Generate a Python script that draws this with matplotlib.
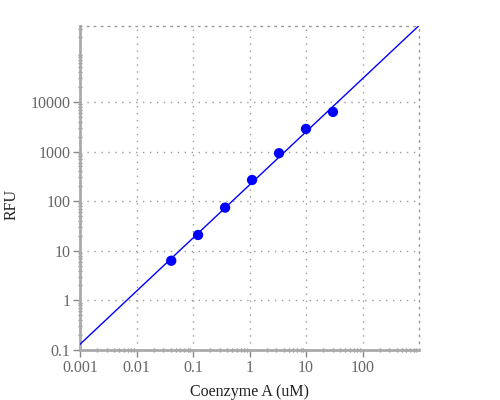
import matplotlib
matplotlib.use("Agg")
import matplotlib.pyplot as plt
import numpy as np
from matplotlib.ticker import LogLocator, FixedLocator, NullFormatter

# data
conc = [0.0412, 0.123, 0.37, 1.11, 3.33, 10.0, 30.0]
rfu = [6.3, 20.8, 74, 267, 925, 2857, 6285]
fit_slope = 1.0705
fit_intercept_log = 2.327   # log10(RFU) at conc = 1
x_ticks = [0.001, 0.01, 0.1, 1, 10, 100]
x_tick_labels = ["0.001", "0.01", "0.1", "1", "10", "100"]
y_ticks = [0.1, 1, 10, 100, 1000, 10000]
y_tick_labels = ["0.1", "1", "10", "100", "1000", "10000"]
x_lim = (0.001, 1000)
y_lim = (0.1, 3.45e5)

plt.rcParams['font.family'] = ['Liberation Serif', 'DejaVu Serif']

fig = plt.figure(figsize=(5, 4), dpi=100)
ax = fig.add_axes([0.16, 0.125, 0.678, 0.811])
ax.set_xscale('log')
ax.set_yscale('log')
ax.set_xlim(*x_lim)
ax.set_ylim(*y_lim)

fx = np.array(x_lim)
fy = 10 ** (fit_intercept_log + fit_slope * np.log10(fx))
ax.plot(fx, fy, color='#0000ff', lw=1, zorder=3)
ax.scatter(conc, rfu, s=55, color='#0000ff', zorder=4, edgecolors='none')

ax.xaxis.set_major_locator(FixedLocator(x_ticks))
ax.set_xticklabels(x_tick_labels)
ax.yaxis.set_major_locator(FixedLocator(y_ticks))
ax.set_yticklabels(y_tick_labels)
ax.xaxis.set_minor_locator(LogLocator(base=10, subs=np.arange(2, 10), numticks=20))
ax.yaxis.set_minor_locator(LogLocator(base=10, subs=np.arange(2, 10), numticks=20))
ax.xaxis.set_minor_formatter(NullFormatter())
ax.yaxis.set_minor_formatter(NullFormatter())

ax.grid(True, which='major', linestyle=(0, (1, 4)), color='#999999', lw=1)
for s in ['top', 'right']:
    ax.spines[s].set_linestyle((0, (1, 4)))
    ax.spines[s].set_color('#999999')
    ax.spines[s].set_linewidth(1)
for s in ['left', 'bottom']:
    ax.spines[s].set_color('#aaaaaa')
    ax.spines[s].set_linewidth(2)

ax.tick_params(which='major', direction='out', length=5, width=1, color='#888888',
               labelcolor='#666666', labelsize=11.5, pad=2)
ax.tick_params(which='minor', direction='inout', length=3, width=1, color='#888888')
ax.tick_params(top=False, right=False, which='both')

ax.set_xlabel("Coenzyme A (uM)", fontsize=11.5, color='#222222', labelpad=6)
ax.set_ylabel("RFU", fontsize=11.5, color='#222222')
ax.yaxis.set_label_coords(-0.177, 0.45)

fig.savefig("out.png", dpi=100)
